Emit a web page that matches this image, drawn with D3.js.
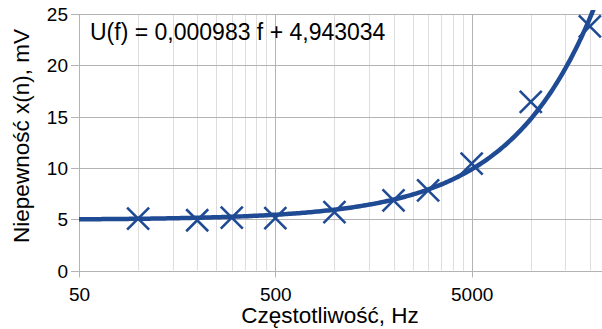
<!DOCTYPE html>
<html><head><meta charset="utf-8">
<script src="https://cdn.jsdelivr.net/npm/d3@7"></script>
<style>body{margin:0;background:#fff}svg{display:block}text{font-family:"Liberation Sans",Arial,sans-serif;fill:#000}</style>
</head><body>
<svg id="c" width="602" height="329"></svg>
<script>
const freqs = [100, 200, 300, 500, 1000, 2000, 3000, 5000, 10000, 20000];
const values = [5.05, 4.9, 5.15, 5.1, 5.69, 6.84, 7.81, 10.42, 16.44, 23.8];
const yTicks = [0, 5, 10, 15, 20, 25];
const xMajorTicks = [50, 500, 5000, 50000];
const xTickLabels = [50, 500, 5000];
const xMinorTicks = [2,3,4,5,6,7,8,9].flatMap(k => [50*k, 500*k, 5000*k]);
const trendSlope = 0.000983, trendIntercept = 4.943034;
const trendLabel = "U(f) = 0,000983 f + 4,943034";
const xTitle = "Częstotliwość, Hz", yTitle = "Niepewność x(n), mV";

const svg = d3.select("#c");
const x = d3.scaleLog().domain([50, 50000]).range([79, 668]);
const y = d3.scaleLinear().domain([0, 25]).range([270.5, 14]);
const W = 602;
const blue = "#1f4a94";

const g = svg.append("g");
g.selectAll(".vmin").data(xMinorTicks).join("line")
  .attr("x1", d => Math.round(x(d)) + 0.5).attr("x2", d => Math.round(x(d)) + 0.5)
  .attr("y1", y(25)).attr("y2", y(0)).attr("stroke", "#dddddd").attr("stroke-width", 1);
g.selectAll(".vmaj").data(xMajorTicks).join("line")
  .attr("x1", d => Math.round(x(d)) + 0.5).attr("x2", d => Math.round(x(d)) + 0.5)
  .attr("y1", y(25)).attr("y2", y(0) + 7).attr("stroke", "#b3b3b3").attr("stroke-width", 1);
g.selectAll(".h").data(yTicks).join("line")
  .attr("x1", 71).attr("x2", W)
  .attr("y1", d => Math.round(y(d)) + 0.5).attr("y2", d => Math.round(y(d)) + 0.5)
  .attr("stroke", "#b3b3b3").attr("stroke-width", 1);

const yAxis = d3.axisLeft(y).tickValues(yTicks).tickSize(0).tickPadding(11).tickFormat(d3.format("d"));
const ya = svg.append("g").attr("transform", "translate(79,0)").call(yAxis);
ya.select(".domain").remove();
ya.selectAll("text").style("font-size", "19px").attr("dy", "0.35em").attr("fill", "#000");

const xAxis = d3.axisBottom(x).tickValues(xTickLabels).tickSize(0).tickPadding(17).tickFormat(d3.format("d"));
const xa = svg.append("g").attr("transform", "translate(0,270.5)").call(xAxis);
xa.select(".domain").remove();
xa.selectAll("text").style("font-size", "19px").attr("fill", "#000");

svg.append("line").attr("x1", 79.5).attr("x2", 79.5).attr("y1", y(25)).attr("y2", y(0)).attr("stroke", "#b3b3b3");

const fs = d3.range(0, 301).map(i => 50 * Math.pow(10, i / 100));
const line = d3.line().x(d => x(d)).y(d => y(trendSlope * d + trendIntercept));
svg.append("defs").append("clipPath").attr("id", "clip").append("rect")
  .attr("x", 79).attr("y", 10).attr("width", W).attr("height", 262);
svg.append("path").datum(fs).attr("d", line).attr("fill", "none").attr("stroke", blue)
  .attr("stroke-width", 4.5).attr("clip-path", "url(#clip)");

const s = 11;
const pts = svg.append("g").selectAll("g").data(freqs.map((f, i) => [f, values[i]])).join("g")
  .attr("transform", d => `translate(${x(d[0])},${y(d[1])})`);
pts.append("path").attr("d", `M${-s},${-s}L${s},${s}M${-s},${s}L${s},${-s}`)
  .attr("stroke", blue).attr("stroke-width", 2.6).attr("fill", "none");

svg.append("text").attr("x", 90).attr("y", 40).style("font-size", "23px").text(trendLabel);

svg.append("text").attr("x", 330).attr("y", 323).attr("text-anchor", "middle").style("font-size", "22.5px").text(xTitle);
svg.append("text").attr("transform", "translate(29,136) rotate(-90)").attr("text-anchor", "middle").style("font-size", "22.5px").text(yTitle);
</script>
</body></html>
